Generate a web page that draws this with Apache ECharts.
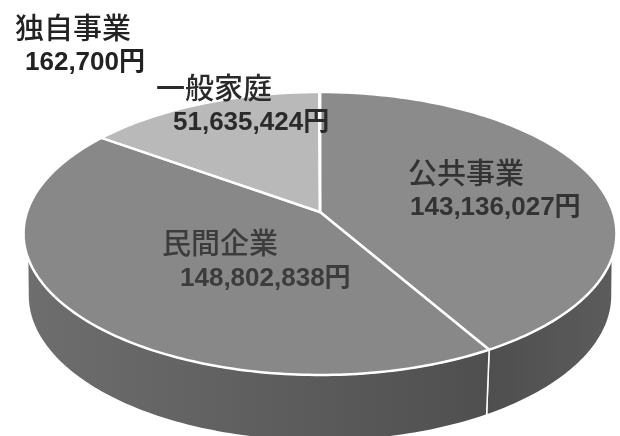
<!DOCTYPE html>
<html>
<head>
<meta charset="utf-8">
<style>
html, body { margin: 0; padding: 0; background: #fff; }
#chart { width: 620px; height: 436px; }
</style>
<script src="https://cdn.jsdelivr.net/npm/echarts@6/dist/echarts.min.js"></script>
</head>
<body>
<div id="chart"></div>
<script>
// 円グラフのデータ
var names = ['公共事業', '民間企業', '一般家庭', '独自事業']
var values = [143136027, 148802838, 51635424, 162700]

// 見た目
var topColors = ['#8b8b8b', '#888888', '#b9b9b9', '#b9b9b9']
var wallColors = [['#4e4e4e', '#5c5c5c'], ['#6e6e6e', '#4f4f4f'], ['#666', '#666'], ['#666', '#666']]
var labelPos = [[408, 173, 410, 208], [162, 243, 180, 279], [156, 88, 173, 123], [15, 28, 25, 63]]
var labelColor = ['#333', '#3c3c3c', '#2a2a2a', '#222']

var total = values.reduce((a, b) => a + b, 0)

// 開始角度(時計回り、真上が0度)
var startAngles = []
values.reduce((sum, v, i) => {
    startAngles[i] = sum / total * 360
    return sum + v
}, 0)

// 透視っぽい楕円の上に角度を写す
var rim = (deg) => {
    var r = deg * Math.PI / 180
    var u = Math.sin(r), v = Math.cos(r)
    var w = 1 + 0.152 * v
    return [320 + 293 * u / w, 212 - 138.2 * v / w]
}
var base = (deg) => {
    var p = rim(deg)
    var v = Math.cos(deg * Math.PI / 180)
    return [320 + (p[0] - 320) * 0.985, p[1] + 61 - 5 * v]
}
var arc = (fn, from, to) => {
    var pts = []
    var n = Math.max(1, Math.ceil(Math.abs(to - from)))
    for (var i = 0; i <= n; i++) {
        pts.push(fn(from + (to - from) * i / n))
    }
    return pts
}

var chart = echarts.init(document.getElementById('chart'), null, {renderer: 'canvas'})

chart.setOption({
    backgroundColor: '#fff',
    animation: false,
    series: [
        // 側面
        {
            type: 'custom',
            coordinateSystem: 'none',
            silent: true,
            z: 1,
            data: values,
            renderItem: (params) => {
                var i = params.dataIndex
                var from = startAngles[i]
                var to = from + values[i] / total * 360
                var a = Math.max(from, 108), b = Math.min(to, 252)
                if (a >= b) return {type: 'group', children: []}
                var c = a === 108 ? 98 : a, d = b === 252 ? 262 : b
                var pts = arc(rim, a, b).concat(arc(base, d, c))
                return {
                    type: 'polygon',
                    shape: {points: pts},
                    style: {
                        fill: new echarts.graphic.LinearGradient(0, 0, 1, 0, [
                            {offset: 0, color: wallColors[i][0]},
                            {offset: 1, color: wallColors[i][1]}
                        ]),
                        stroke: '#fff',
                        lineWidth: 1.5
                    }
                }
            }
        },
        // 上面
        {
            type: 'custom',
            coordinateSystem: 'none',
            silent: true,
            z: 2,
            data: values,
            renderItem: (params) => {
                var i = params.dataIndex
                var from = startAngles[i]
                var to = from + values[i] / total * 360
                return {
                    type: 'polygon',
                    shape: {points: [[320, 212]].concat(arc(rim, from, to))},
                    style: {
                        fill: topColors[i],
                        stroke: '#fff',
                        lineWidth: 2.5,
                        lineJoin: 'round'
                    }
                }
            }
        },
        // ラベル
        {
            type: 'custom',
            coordinateSystem: 'none',
            silent: true,
            z: 3,
            data: values,
            renderItem: (params) => {
                var i = params.dataIndex
                var p = labelPos[i]
                return {
                    type: 'group',
                    children: [
                        {
                            type: 'text',
                            x: p[0],
                            y: p[1],
                            style: {
                                text: names[i],
                                font: '500 29px "Noto Sans CJK JP"',
                                fill: labelColor[i],
                                textAlign: 'left',
                                textVerticalAlign: 'middle'
                            }
                        },
                        {
                            type: 'text',
                            x: p[2],
                            y: p[3],
                            style: {
                                text: values[i].toLocaleString('en-US') + '円',
                                font: 'bold 26px "Liberation Sans", "Noto Sans CJK JP"',
                                fill: labelColor[i],
                                textAlign: 'left',
                                textVerticalAlign: 'middle'
                            }
                        }
                    ]
                }
            }
        }
    ]
})
</script>
</body>
</html>
